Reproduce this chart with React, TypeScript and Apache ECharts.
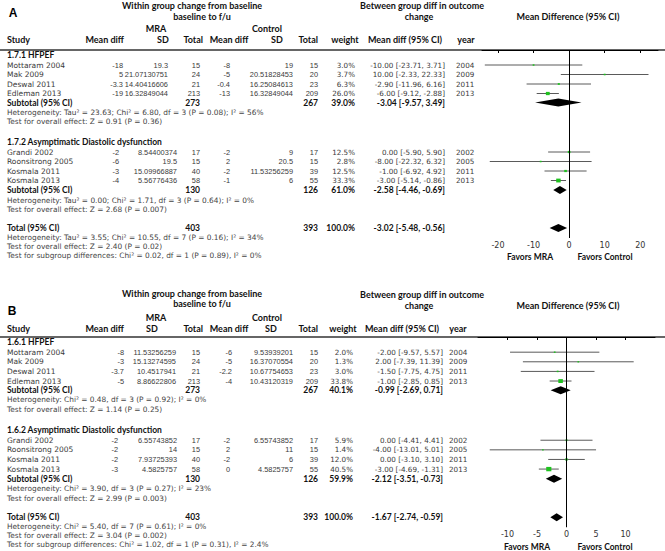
import React, { useEffect, useRef } from "react";
import * as echarts from "echarts";

// Row: [study, mraMean, mraSD, mraN, ctlMean, ctlSD, ctlN, weight%, md, lo, hi, year]
type Row = [string, string, string, number, string, string, number, number, number, number, number, number];
// Subtotal: [mraN, ctlN, weight%, md, lo, hi]
type Sub = [number, number, number, number, number, number];

// ---------------- Panel A ----------------
const A_SUB1_NAME = "1.7.1 HFPEF";
const A_SUB1_ROWS: Row[] = [
  ["Mottaram 2004", "-18", "19.3", 15, "-8", "19", 15, 3.0, -10.0, -23.71, 3.71, 2004],
  ["Mak 2009", "5", "21.07130751", 24, "-5", "20.51828453", 20, 3.7, 10.0, -2.33, 22.33, 2009],
  ["Deswal 2011", "-3.3", "14.40416606", 21, "-0.4", "16.25084613", 23, 6.3, -2.9, -11.96, 6.16, 2011],
  ["Edleman 2013", "-19", "16.32849044", 213, "-13", "16.32849044", 209, 26.0, -6.0, -9.12, -2.88, 2013],
];
const A_SUB1_TOTAL: Sub = [273, 267, 39.0, -3.04, -9.57, 3.49];
const A_SUB1_HET = "Heterogeneity: Tau² = 23.63; Chi² = 6.80, df = 3 (P = 0.08); I² = 56%";
const A_SUB1_TEST = "Test for overall effect: Z = 0.91 (P = 0.36)";
const A_SUB2_NAME = "1.7.2 Asymptimatic Diastolic dysfunction";
const A_SUB2_ROWS: Row[] = [
  ["Grandi 2002", "-2", "8.54400374", 17, "-2", "9", 17, 12.5, 0.0, -5.9, 5.9, 2002],
  ["Roonsitrong 2005", "-6", "19.5", 15, "2", "20.5", 15, 2.8, -8.0, -22.32, 6.32, 2005],
  ["Kosmala 2011", "-3", "15.09966887", 40, "-2", "11.53256259", 39, 12.5, -1.0, -6.92, 4.92, 2011],
  ["Kosmala 2013", "-4", "5.56776436", 58, "-1", "6", 55, 33.3, -3.0, -5.14, -0.86, 2013],
];
const A_SUB2_TOTAL: Sub = [130, 126, 61.0, -2.58, -4.46, -0.69];
const A_SUB2_HET = "Heterogeneity: Tau² = 0.00; Chi² = 1.71, df = 3 (P = 0.64); I² = 0%";
const A_SUB2_TEST = "Test for overall effect: Z = 2.68 (P = 0.007)";
const A_TOTAL: Sub = [403, 393, 100.0, -3.02, -5.48, -0.56];
const A_TOTAL_NOTES = [
  "Heterogeneity: Tau² = 3.55; Chi² = 10.55, df = 7 (P = 0.16); I² = 34%",
  "Test for overall effect: Z = 2.40 (P = 0.02)",
  "Test for subgroup differences: Chi² = 0.02, df = 1 (P = 0.89), I² = 0%",
];
const A_TICKS = [-20, -10, 0, 10, 20];

// ---------------- Panel B ----------------
const B_SUB1_NAME = "1.6.1 HFPEF";
const B_SUB1_ROWS: Row[] = [
  ["Mottaram 2004", "-8", "11.53256259", 15, "-6", "9.53939201", 15, 2.0, -2.0, -9.57, 5.57, 2004],
  ["Mak 2009", "-3", "15.13274595", 24, "-5", "16.37070554", 20, 1.3, 2.0, -7.39, 11.39, 2009],
  ["Deswal 2011", "-3.7", "10.4517941", 21, "-2.2", "10.67754653", 23, 3.0, -1.5, -7.75, 4.75, 2011],
  ["Edleman 2013", "-5", "8.86622806", 213, "-4", "10.43120319", 209, 33.8, -1.0, -2.85, 0.85, 2013],
];
const B_SUB1_TOTAL: Sub = [273, 267, 40.1, -0.99, -2.69, 0.71];
const B_SUB1_HET = "Heterogeneity: Chi² = 0.48, df = 3 (P = 0.92); I² = 0%";
const B_SUB1_TEST = "Test for overall effect: Z = 1.14 (P = 0.25)";
const B_SUB2_NAME = "1.6.2 Asymptimatic Diastolic dysfunction";
const B_SUB2_ROWS: Row[] = [
  ["Grandi 2002", "-2", "6.55743852", 17, "-2", "6.55743852", 17, 5.9, 0.0, -4.41, 4.41, 2002],
  ["Roonsitrong 2005", "-2", "14", 15, "2", "11", 15, 1.4, -4.0, -13.01, 5.01, 2005],
  ["Kosmala 2011", "-2", "7.93725393", 40, "-2", "6", 39, 12.0, 0.0, -3.1, 3.1, 2011],
  ["Kosmala 2013", "-3", "4.5825757", 58, "0", "4.5825757", 55, 40.5, -3.0, -4.69, -1.31, 2013],
];
const B_SUB2_TOTAL: Sub = [130, 126, 59.9, -2.12, -3.51, -0.73];
const B_SUB2_HET = "Heterogeneity: Chi² = 3.90, df = 3 (P = 0.27); I² = 23%";
const B_SUB2_TEST = "Test for overall effect: Z = 2.99 (P = 0.003)";
const B_TOTAL: Sub = [403, 393, 100.0, -1.67, -2.74, -0.59];
const B_TOTAL_NOTES = [
  "Heterogeneity: Chi² = 5.40, df = 7 (P = 0.61); I² = 0%",
  "Test for overall effect: Z = 3.04 (P = 0.002)",
  "Test for subgroup differences: Chi² = 1.02, df = 1 (P = 0.31), I² = 2.4%",
];
const B_TICKS = [-10, -5, 0, 5, 10];

// ---------------- Layout ----------------
const HF = 'Lato, "Open Sans", sans-serif';
const DF = '"DejaVu Sans", Verdana, sans-serif';
const NF = '"Liberation Sans", Arial, sans-serif';
const W = 665;
const H = 551;

const OFF = {
  sub1Head: 5,
  sub1Rows: [15, 24.5, 34, 43.5],
  sub1Tot: 52.5,
  sub1Het: 62,
  sub1Test: 71.5,
  sub2Head: 92,
  sub2Rows: [102, 111.5, 121, 130.5],
  sub2Tot: 140,
  sub2Het: 150,
  sub2Test: 159.5,
  total: 178,
  notes: [187, 196, 205],
  axis: 188,
};

interface Cols {
  mraMean: number; mraSD: number; mraN: number; ctlMean: number; ctlSD: number; ctlN: number;
  weight: number; ci: number; year: number;
}

interface Panel {
  letter: string; letterXY: [number, number];
  y0: number; k: number;
  hdrY: number[]; rHdrY: number[];
  hdrX: { sd: number; ctlSd: number; weight: number; ci: number; year: number };
  sub1Name: string; sub1Rows: Row[]; sub1Tot: Sub; sub1Het: string; sub1Test: string;
  sub2Name: string; sub2Rows: Row[]; sub2Tot: Sub; sub2Het: string; sub2Test: string;
  total: Sub; notes: string[];
  cols1: Cols; cols2: Cols;
  xMin: number; xMax: number; ticks: number[]; gridLeft: number; gridRight: number;
  favorsY: number; favorsX: [number, number];
}

const PANELS: Panel[] = [
  {
    letter: "A", letterXY: [13, 13], y0: 50, k: 1,
    hdrY: [5, 16, 28, 39], rHdrY: [5, 16],
    hdrX: { sd: 163, ctlSd: 277, weight: 345, ci: 405, year: 466 },
    sub1Name: A_SUB1_NAME, sub1Rows: A_SUB1_ROWS, sub1Tot: A_SUB1_TOTAL, sub1Het: A_SUB1_HET, sub1Test: A_SUB1_TEST,
    sub2Name: A_SUB2_NAME, sub2Rows: A_SUB2_ROWS, sub2Tot: A_SUB2_TOTAL, sub2Het: A_SUB2_HET, sub2Test: A_SUB2_TEST,
    total: A_TOTAL, notes: A_TOTAL_NOTES,
    cols1: { mraMean: 123, mraSD: 168, mraN: 200, ctlMean: 230, ctlSD: 293, ctlN: 318, weight: 355, ci: 445, year: 456 },
    cols2: { mraMean: 119, mraSD: 177, mraN: 200, ctlMean: 230, ctlSD: 293, ctlN: 318, weight: 355, ci: 445, year: 456 },
    xMin: -24.5, xMax: 25, ticks: A_TICKS, gridLeft: 482, gridRight: 7,
    favorsY: 257, favorsX: [530, 605],
  },
  {
    letter: "B", letterXY: [12, 311], y0: 337, k: 1.012,
    hdrY: [293, 303, 317, 328], rHdrY: [294, 305],
    hdrX: { sd: 152, ctlSd: 271, weight: 343, ci: 402, year: 458 },
    sub1Name: B_SUB1_NAME, sub1Rows: B_SUB1_ROWS, sub1Tot: B_SUB1_TOTAL, sub1Het: B_SUB1_HET, sub1Test: B_SUB1_TEST,
    sub2Name: B_SUB2_NAME, sub2Rows: B_SUB2_ROWS, sub2Tot: B_SUB2_TOTAL, sub2Het: B_SUB2_HET, sub2Test: B_SUB2_TEST,
    total: B_TOTAL, notes: B_TOTAL_NOTES,
    cols1: { mraMean: 124, mraSD: 176, mraN: 200, ctlMean: 232, ctlSD: 293, ctlN: 318, weight: 353, ci: 443, year: 449 },
    cols2: { mraMean: 118, mraSD: 177, mraN: 200, ctlMean: 230, ctlSD: 293, ctlN: 318, weight: 353, ci: 443, year: 449 },
    xMin: -15, xMax: 15, ticks: B_TICKS, gridLeft: 478, gridRight: 10,
    favorsY: 547, favorsX: [527, 605],
  },
];

const fmtCI = (md: number, lo: number, hi: number) => `${md.toFixed(2)} [${lo.toFixed(2)}, ${hi.toFixed(2)}]`;

function txt(x: number, y: number, text: string, o: { bold?: boolean; size?: number; family?: string; align?: string; color?: string } = {}) {
  return {
    type: "text",
    x, y, silent: true,
    style: {
      text,
      fill: o.color || "#3a3a3a",
      fontSize: o.size || 7.5,
      fontFamily: o.family || DF,
      fontWeight: o.bold ? "bold" : "normal",
      align: o.align || "left",
      verticalAlign: "middle",
    },
  };
}

function panelGraphics(p: Panel): any[] {
  const g: any[] = [];
  const Y = (off: number) => p.y0 + off * p.k;
  const hb = { bold: true, size: 9, family: HF, color: "#111" };
  const lb = { bold: true, size: 8.5, family: HF, color: "#111" };
  const num = { family: NF, size: 7.4, align: "right" };
  const ci = { family: DF, size: 7.2, align: "right" };
  g.push(txt(p.letterXY[0], p.letterXY[1], p.letter, { bold: true, size: 12, family: NF, align: "center", color: "#000" }));
  g.push(txt(192, p.hdrY[0], "Within group change from baseline", { ...hb, align: "center" }));
  g.push(txt(202, p.hdrY[1], "baseline to f/u", { ...hb, align: "center" }));
  g.push(txt(156, p.hdrY[2], "MRA", { ...hb, align: "center" }));
  g.push(txt(267, p.hdrY[2], "Control", { ...hb, align: "center" }));
  const r = p.hdrY[3];
  g.push(txt(7, r, "Study", hb));
  g.push(txt(124, r, "Mean diff", { ...hb, align: "right" }));
  g.push(txt(p.hdrX.sd, r, "SD", { ...hb, align: "center" }));
  g.push(txt(203, r, "Total", { ...hb, align: "right" }));
  g.push(txt(229, r, "Mean diff", { ...hb, align: "center" }));
  g.push(txt(p.hdrX.ctlSd, r, "SD", { ...hb, align: "center" }));
  g.push(txt(318, r, "Total", { ...hb, align: "right" }));
  g.push(txt(p.hdrX.weight, r, "weight", { ...hb, align: "center" }));
  g.push(txt(p.hdrX.ci, r, "Mean diff (95% CI)", { ...hb, align: "center" }));
  g.push(txt(p.hdrX.year, r, "year", { ...hb, align: "center" }));
  g.push(txt(422, p.rHdrY[0], "Between group diff in outcome", { ...hb, align: "center" }));
  g.push(txt(419, p.rHdrY[1], "change", { ...hb, align: "center" }));
  g.push(txt(568, p.rHdrY[1], "Mean Difference (95% CI)", { ...hb, align: "center" }));
  g.push({ type: "line", silent: true, shape: { x1: 0, y1: p.y0, x2: W, y2: p.y0 }, style: { stroke: "#333", lineWidth: 1.3 } });

  const studyRows = (rows: Row[], offs: number[], c: Cols) => {
    rows.forEach((row, i) => {
      const y = Y(offs[i]);
      g.push(txt(7, y, row[0]));
      g.push(txt(c.mraMean, y, row[1], num));
      g.push(txt(c.mraSD, y, row[2], num));
      g.push(txt(c.mraN, y, String(row[3]), num));
      g.push(txt(c.ctlMean, y, row[4], num));
      g.push(txt(c.ctlSD, y, row[5], num));
      g.push(txt(c.ctlN, y, String(row[6]), num));
      g.push(txt(c.weight, y, row[7].toFixed(1) + "%", ci));
      g.push(txt(c.ci, y, fmtCI(row[8], row[9], row[10]), ci));
      g.push(txt(c.year, y, String(row[11]), { family: DF, size: 7.2 }));
    });
  };
  const subRow = (label: string, s: Sub, off: number, c: Cols) => {
    const y = Y(off);
    g.push(txt(7, y, label, lb));
    g.push(txt(c.mraN, y, String(s[0]), { ...lb, align: "right" }));
    g.push(txt(c.ctlN, y, String(s[1]), { ...lb, align: "right" }));
    g.push(txt(c.weight, y, s[2].toFixed(1) + "%", { ...lb, align: "right" }));
    g.push(txt(c.ci, y, fmtCI(s[3], s[4], s[5]), { ...lb, align: "right" }));
  };
  const note = (t: string, off: number) => g.push(txt(7, Y(off), t, { size: 7.4, color: "#444" }));

  g.push(txt(7, Y(OFF.sub1Head), p.sub1Name, lb));
  studyRows(p.sub1Rows, OFF.sub1Rows, p.cols1);
  subRow("Subtotal (95% CI)", p.sub1Tot, OFF.sub1Tot, p.cols1);
  note(p.sub1Het, OFF.sub1Het);
  note(p.sub1Test, OFF.sub1Test);
  g.push(txt(7, Y(OFF.sub2Head), p.sub2Name, lb));
  studyRows(p.sub2Rows, OFF.sub2Rows, p.cols2);
  subRow("Subtotal (95% CI)", p.sub2Tot, OFF.sub2Tot, p.cols2);
  note(p.sub2Het, OFF.sub2Het);
  note(p.sub2Test, OFF.sub2Test);
  subRow("Total (95% CI)", p.total, OFF.total, p.cols2);
  p.notes.forEach((t, i) => note(t, OFF.notes[i]));

  g.push(txt(p.favorsX[0], p.favorsY, "Favors MRA", { ...lb, align: "center" }));
  g.push(txt(p.favorsX[1], p.favorsY, "Favors Control", { ...lb, align: "center" }));
  return g;
}

function forestData(p: Panel): number[][] {
  const d: number[][] = [];
  p.sub1Rows.forEach((r, i) => d.push([r[8], r[9], r[10], r[7], OFF.sub1Rows[i], 0]));
  d.push([p.sub1Tot[3], p.sub1Tot[4], p.sub1Tot[5], p.sub1Tot[2], OFF.sub1Tot, 1]);
  p.sub2Rows.forEach((r, i) => d.push([r[8], r[9], r[10], r[7], OFF.sub2Rows[i], 0]));
  d.push([p.sub2Tot[3], p.sub2Tot[4], p.sub2Tot[5], p.sub2Tot[2], OFF.sub2Tot, 1]);
  d.push([p.total[3], p.total[4], p.total[5], p.total[2], OFF.total, 1]);
  return d;
}

const renderItem = (_params: any, api: any) => {
  const md = api.value(0), lo = api.value(1), hi = api.value(2), w = api.value(3), y = api.value(4), kind = api.value(5);
  const pL = api.coord([lo, y]);
  const pR = api.coord([hi, y]);
  const pM = api.coord([md, y]);
  if (kind === 1) {
    const h = 4;
    return {
      type: "polygon",
      shape: { points: [[pL[0], pM[1]], [pM[0], pM[1] - h], [pR[0], pM[1]], [pM[0], pM[1] + h]] },
      style: { fill: "#000" },
    };
  }
  const s = 1.5 + w * 0.09;
  return {
    type: "group",
    children: [
      { type: "line", shape: { x1: pL[0], y1: pL[1], x2: pR[0], y2: pR[1] }, style: { stroke: "#5a5a5a", lineWidth: 1 } },
      { type: "rect", shape: { x: pM[0] - s / 2, y: pM[1] - s * 0.42, width: s, height: s * 0.85 }, style: { fill: "#1fc21f" } },
    ],
  };
};

export default function App() {
  const ref = useRef<HTMLDivElement>(null);
  useEffect(() => {
    if (!ref.current) return;
    const chart = echarts.init(ref.current, undefined, { renderer: "svg" });
    const grids = PANELS.map((p) => ({
      left: p.gridLeft, right: p.gridRight, top: p.y0, height: OFF.axis * p.k, containLabel: false,
    }));
    const xAxes = PANELS.map((p, i) => ({
      gridIndex: i, type: "value", min: p.xMin, max: p.xMax,
      axisLine: { show: true, lineStyle: { color: "#000", width: 1 } },
      axisTick: { show: true, customValues: p.ticks, length: 3, inside: false, lineStyle: { color: "#000" } },
      axisLabel: { show: true, customValues: p.ticks, fontSize: 8, fontFamily: DF, color: "#333", margin: 3 },
      splitLine: { show: false },
    }));
    const yAxes = PANELS.map((_p, i) => ({
      gridIndex: i, type: "value", min: 0, max: OFF.axis, inverse: true, show: false,
    }));
    const series = PANELS.map((p, i) => ({
      type: "custom",
      xAxisIndex: i, yAxisIndex: i,
      renderItem,
      encode: { x: [0, 1, 2], y: 4 },
      data: forestData(p),
      silent: true,
      markLine: {
        silent: true, symbol: ["none", "none"], label: { show: false },
        lineStyle: { color: "#000", width: 1, type: "solid" },
        data: [{ xAxis: 0 }],
      },
    }));
    chart.setOption({
      animation: false,
      backgroundColor: "#fff",
      grid: grids,
      xAxis: xAxes,
      yAxis: yAxes,
      series,
      graphic: { elements: PANELS.flatMap(panelGraphics) },
    });
    return () => chart.dispose();
  }, []);
  return <div ref={ref} style={{ position: "fixed", left: 0, top: 0, width: W, height: H, background: "#fff" }} />;
}
